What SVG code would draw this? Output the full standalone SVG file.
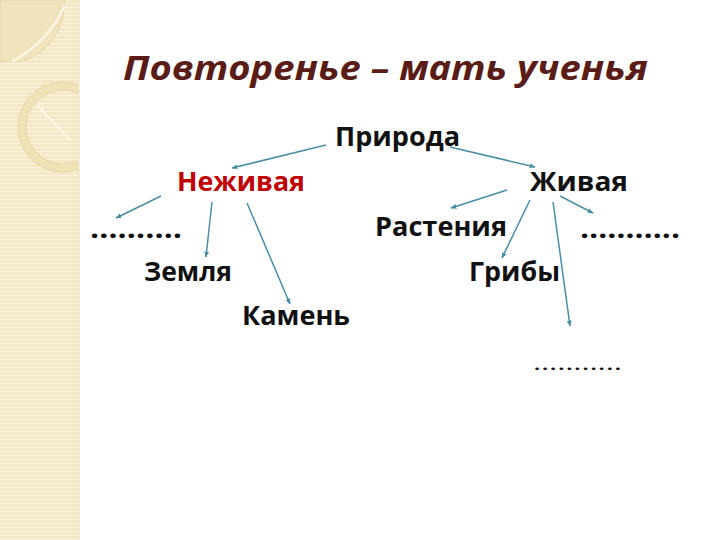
<svg xmlns="http://www.w3.org/2000/svg" width="720" height="540" viewBox="0 0 720 540">
<defs>
<pattern id="stripes" width="4" height="4" patternUnits="userSpaceOnUse">
<rect width="4" height="4" fill="#f4e8c6"/>
<rect y="3" width="4" height="1" fill="#fbf4e0"/>
</pattern>
<clipPath id="side"><rect x="0" y="0" width="79" height="540"/></clipPath>
<marker id="ah" viewBox="0 0 10 10" refX="9" refY="5" markerWidth="6" markerHeight="6" orient="auto" markerUnits="userSpaceOnUse">
<path d="M0,1 L10,5 L0,9 z" fill="#4a8ea3"/>
</marker>
<style>
.t{font-family:"Open Sans","Liberation Sans",sans-serif;font-size:27px;font-weight:bold;fill:#111;}
.c{stroke:#4a8ea3;stroke-width:1.5;fill:none;marker-end:url(#ah);}
</style>
</defs>
<rect width="720" height="540" fill="#fff"/>
<g id="sidebar">
<rect x="0" y="0" width="79" height="540" fill="url(#stripes)"/>
<g clip-path="url(#side)">
<path d="M0,0 H65 V4 Q60,50 20,62 H0 Z" fill="#f1e4bd" stroke="#e6d6a8" stroke-width="1"/>
<path d="M12,62 Q50,40 65,5" stroke="#fbf6e6" stroke-width="2.5" fill="none"/>
<circle cx="63" cy="127" r="41" fill="none" stroke="#efe2b5" stroke-width="8"/>
<circle cx="63" cy="127" r="45" fill="none" stroke="#e6d6a6" stroke-width="1"/>
<circle cx="63" cy="127" r="37" fill="none" stroke="#e6d6a6" stroke-width="1"/>
<path d="M38,105 Q55,125 70,140" stroke="#fbf6e6" stroke-width="2" fill="none"/>
</g>
<rect x="78" y="0" width="1.5" height="540" fill="#ece0bc"/>
</g>
<g id="title">
<text x="123" y="80" style="font-family:'Open Sans','Liberation Sans',sans-serif;font-style:italic;font-weight:bold;font-size:34px;fill:#5a1c16" textLength="525" lengthAdjust="spacingAndGlyphs">Повторенье – мать ученья</text>
</g>
<g id="connectors">
<line class="c" x1="326" y1="145" x2="232" y2="168"/>
<line class="c" x1="450" y1="147" x2="535" y2="167"/>
<line class="c" x1="161" y1="196" x2="116" y2="218"/>
<line class="c" x1="212" y1="202" x2="206" y2="257"/>
<line class="c" x1="247" y1="203" x2="290" y2="304"/>
<line class="c" x1="507" y1="190" x2="451" y2="208"/>
<line class="c" x1="530" y1="200" x2="502" y2="258"/>
<line class="c" x1="553" y1="202" x2="570" y2="326"/>
<line class="c" x1="560" y1="196" x2="593" y2="213"/>
</g>
<g id="priroda"><text class="t" x="335" y="146" textLength="125" lengthAdjust="spacingAndGlyphs">Природа</text></g>
<g id="nezhivaya"><text class="t" x="177" y="191" style="fill:#c00000" textLength="128" lengthAdjust="spacingAndGlyphs">Неживая</text></g>
<g id="zhivaya"><text class="t" x="530" y="191" textLength="98" lengthAdjust="spacingAndGlyphs">Живая</text></g>
<g id="dots-left"><text class="t" x="90" y="238" textLength="92" lengthAdjust="spacingAndGlyphs">……….</text></g>
<g id="rasteniya"><text class="t" x="375" y="236" textLength="132" lengthAdjust="spacingAndGlyphs">Растения</text></g>
<g id="dots-right"><text class="t" x="580" y="238" textLength="100" lengthAdjust="spacingAndGlyphs">………..</text></g>
<g id="zemlya"><text class="t" x="144" y="281" textLength="88" lengthAdjust="spacingAndGlyphs">Земля</text></g>
<g id="griby"><text class="t" x="469" y="281" textLength="91" lengthAdjust="spacingAndGlyphs">Грибы</text></g>
<g id="kamen"><text class="t" x="242" y="325" textLength="108" lengthAdjust="spacingAndGlyphs">Камень</text></g>
<g id="dots-bottom"><text class="t" x="533" y="370" style="font-size:20px;font-weight:normal" textLength="89" lengthAdjust="spacingAndGlyphs">………..</text></g>
</svg>
